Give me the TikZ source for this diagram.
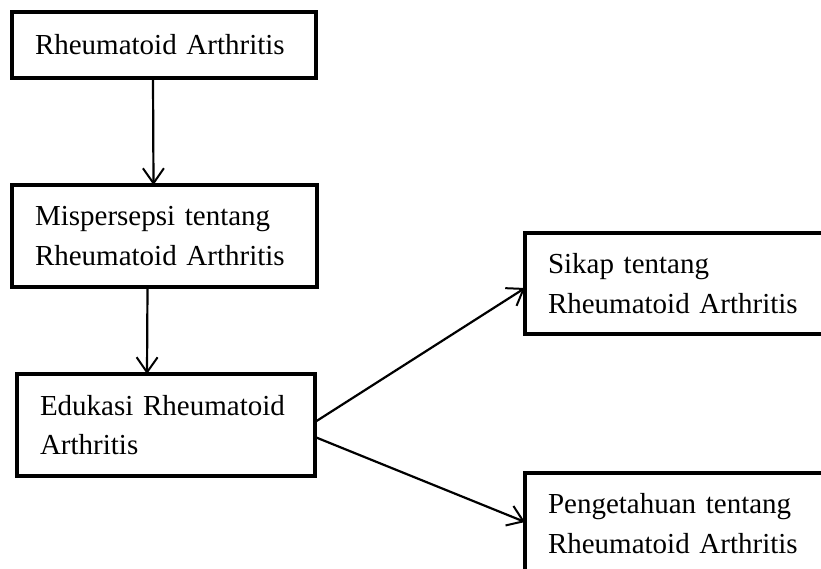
\documentclass[tikz,border=0pt]{standalone}
\usepackage{fontspec}
\setmainfont{Liberation Serif}
\usetikzlibrary{arrows.meta}

\begin{document}
\begin{tikzpicture}[x=1pt, y=-1pt]
		\tikzset{
			box/.style = {draw, line width=4.6pt, outer sep=0pt, anchor=north west, align=left,
				inner xsep=23pt, inner ysep=0pt, font=\fontsize{29}{39.5}\selectfont},
			link/.style = {line width=2.2pt, -{Straight Barb[length=15pt, width=21pt, line width=2pt]}}
		}
		\clip (0,0) rectangle (821,569);

		% left column
		\node[box, text width=258pt, minimum height=66pt] (ra) at (12,12) {Rheumatoid Arthritis};
		\node[box, text width=259pt, minimum height=102pt] (mis) at (12,185) {Mispersepsi tentang\\Rheumatoid Arthritis};
		\node[box, text width=252pt, minimum height=102pt] (edu) at (17,374) {Edukasi Rheumatoid\\Arthritis};

		% right column
		\node[box, text width=264pt, minimum height=101pt] (sikap) at (525,233) {Sikap tentang\\Rheumatoid Arthritis};
		\node[box, text width=264pt, minimum height=101pt] (tahu) at (525,473) {Pengetahuan tentang\\Rheumatoid Arthritis};

		\begin{scope}[link]
			\draw ([xshift=-11pt]ra.south) -- ([xshift=-11pt]mis.north);
			\draw ([xshift=-17pt]mis.south) -- ([xshift=-19pt]edu.north);
			\draw ([yshift=3pt]edu.east) -- ([yshift=-4.5pt]sikap.west);
			\draw ([yshift=-12pt]edu.east) -- ([yshift=1.5pt]tahu.west);
		\end{scope}
	\end{tikzpicture}
\end{document}
